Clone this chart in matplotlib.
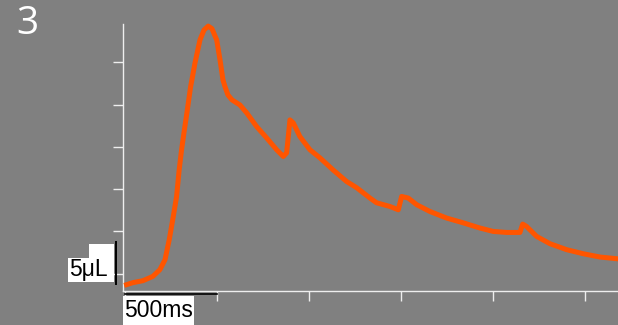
import matplotlib
matplotlib.use("Agg")
import matplotlib.pyplot as plt
from matplotlib.patches import Rectangle

# time (ms) and volume (uL)
time_ms = [6, 41, 95, 149, 187, 215, 238, 260, 278, 292, 305, 318, 334, 354, 378, 405, 427, 450,
           470, 496, 514, 530, 541, 557, 579, 622, 659, 713, 767, 822, 858, 876, 886, 894, 912,
           948, 1003, 1057, 1128, 1202, 1257, 1329, 1365, 1438, 1483, 1501, 1537, 1583, 1655,
           1746, 1834, 1927, 1999, 2072, 2144, 2159, 2180, 2235, 2307, 2398, 2488, 2579, 2670, 2700]
volume_ul = [-1.30, -1.06, -0.83, -0.32, 0.47, 1.65, 4.02, 6.77, 9.14, 12.29, 14.66, 16.67, 19.03,
             22.10, 24.94, 27.66, 28.84, 29.3, 29.0, 27.66, 25.3, 22.93, 22.14, 21.16, 20.57, 19.97,
             19.03, 17.41, 16.08, 14.66, 13.87, 14.30, 16.43, 18.20, 17.85, 16.23, 14.66, 13.71,
             12.29, 10.91, 10.17, 8.95, 8.39, 7.95, 7.56, 9.14, 8.95, 8.16, 7.36, 6.58, 6.03, 5.40,
             5.00, 4.88, 4.88, 5.87, 5.59, 4.41, 3.55, 2.84, 2.36, 1.97, 1.77, 1.70]
x_ticks = [0, 500, 1000, 1500, 2000, 2500]
y_ticks = [0, 5, 10, 15, 20, 25]
panel_label = "3"
x_scale_label = "500ms"
y_scale_label = "5μL"
x_scale_len = 500
y_scale_len = 5

W, H = 618, 325
bg = "#808080"
fig = plt.figure(figsize=(W / 100, H / 100), dpi=100, facecolor=bg)
ax = fig.add_axes([122.5 / W, (H - 291) / H, (W - 122.5) / W, (291 - 24) / H])
ax.set_facecolor(bg)
ax.plot(time_ms, volume_ul, color="#ff5500", lw=3.6, solid_joinstyle="round", clip_on=False, zorder=3)
ax.set_xlim(-16, 2677)
ax.set_ylim(-2.05, 29.55)
ax.set_xticks(x_ticks)
ax.set_yticks(y_ticks)
ax.set_xticklabels([])
ax.set_yticklabels([])
for s in ["top", "right"]:
    ax.spines[s].set_visible(False)
for s in ["left", "bottom"]:
    ax.spines[s].set_color("#eeeeee")
    ax.spines[s].set_linewidth(1.0)
ax.tick_params(axis="both", direction="out", length=7, width=1.0, color="#eeeeee")

# scale bars
ax.plot([0, x_scale_len], [-2.4, -2.4], color="black", lw=1.2, clip_on=False, zorder=4)
ax.plot([-53, -53], [-1.2, -1.2 + y_scale_len], color="black", lw=1.4, clip_on=False, zorder=4)

def frect(x0, y0, x1, y1):
    fig.patches.append(Rectangle((x0 / W, 1 - y1 / H), (x1 - x0) / W, (y1 - y0) / H,
                                 transform=fig.transFigure, facecolor="white",
                                 edgecolor="none", zorder=1))

frect(123, 296, 194, 325)
frect(68, 258, 114, 282)
frect(89, 244, 114, 258)
fig.text(158.5 / W, 1 - 310.5 / H, x_scale_label, ha="center", va="center",
         fontsize=16.5, family="Liberation Sans", color="black", zorder=5)
fig.text(88 / W, 1 - 269.5 / H, y_scale_label, ha="center", va="center",
         fontsize=16.5, family="Liberation Sans", color="black", zorder=5)
fig.text(27 / W, 1 - 24.5 / H, panel_label, ha="center", va="center",
         fontsize=28, family="Open Sans", color="white")

fig.savefig("out.png", dpi=100, facecolor=bg)
